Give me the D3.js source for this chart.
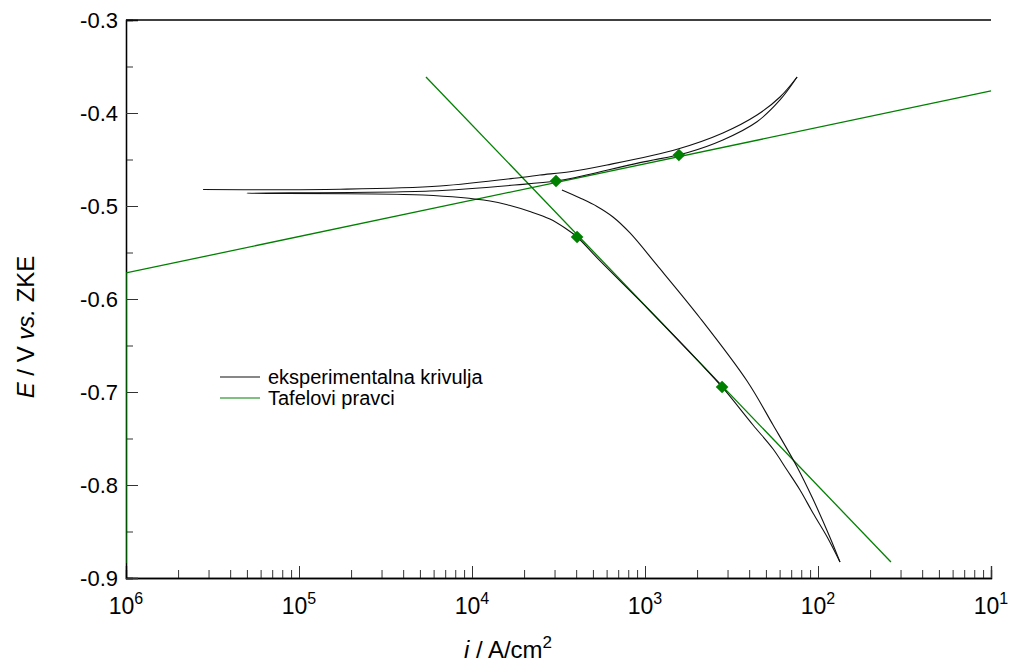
<!doctype html>
<html>
<head>
  <script src="https://d3js.org/d3.v7.min.js"></script>
</head>
<style>
  body {
    margin: 0;
    background: #fff;
  }

  svg text {
    font-family: Arial, "Liberation Sans", sans-serif;
    fill: #000;
  }
</style>
<body>
<svg></svg>

<script>
  // data: [current density, potential]
  const upperSweep = [
    [2.79e-6, -0.4823], [1.73e-5, -0.4820], [6.53e-5, -0.4785], [1.97e-4, -0.4691],
    [2.47e-4, -0.4667], [3.68e-4, -0.4631], [6.03e-4, -0.4559], [1.55e-3, -0.4387],
    [2.82e-3, -0.4215], [4.44e-3, -0.4022], [6.03e-3, -0.3828], [7.57e-3, -0.3613]
  ];
  const lowerSweep = [
    [7.57e-3, -0.3613], [6.03e-3, -0.3860], [4.44e-3, -0.4094], [2.82e-3, -0.4290],
    [1.75e-3, -0.4427], [9.35e-4, -0.4534], [3.84e-4, -0.4699], [3.06e-4, -0.4731],
    [1.97e-4, -0.4767], [5.71e-5, -0.4839], [5.00e-6, -0.4863], [5.21e-5, -0.4882],
    [1.27e-4, -0.4946], [1.66e-4, -0.4995], [2.16e-4, -0.5059], [2.82e-4, -0.5140],
    [3.45e-4, -0.5237], [4.05e-4, -0.5333], [5.50e-4, -0.5591], [1.07e-3, -0.6129],
    [2.08e-3, -0.6688], [2.79e-3, -0.6946], [4.21e-3, -0.7355], [5.50e-3, -0.7613],
    [6.62e-3, -0.7839], [7.87e-3, -0.8054], [9.35e-3, -0.8301], [1.13e-2, -0.8559],
    [1.34e-2, -0.8828]
  ];
  const cathodicSweep = [
    [3.31e-4, -0.4828], [4.21e-4, -0.4914], [5.28e-4, -0.5005], [6.53e-4, -0.5118],
    [8.19e-4, -0.5290], [1.17e-3, -0.5634], [2.08e-3, -0.6204], [3.89e-3, -0.6882],
    [5.50e-3, -0.7355], [7.57e-3, -0.7806], [9.35e-3, -0.8151], [1.17e-2, -0.8559],
    [1.34e-2, -0.8828]
  ];
  const anodicTafel = [[1e-6, -0.884], [1e-6, -0.572], [1e-1, -0.3763]];
  const cathodicTafel = [[5.42e-5, -0.3613], [2.64e-2, -0.8828]];
  const tafelPoints = [[3.06e-4, -0.4731], [1.57e-3, -0.4452], [4.05e-4, -0.5333], [2.79e-3, -0.6946]];

  const xMajor = [1e-6, 1e-5, 1e-4, 1e-3, 1e-2, 1e-1];
  const xLabels = ["6", "5", "4", "3", "2", "1"];
  const yMajor = [-0.3, -0.4, -0.5, -0.6, -0.7, -0.8, -0.9];
  const yLabels = ["-0.3", "-0.4", "-0.5", "-0.6", "-0.7", "-0.8", "-0.9"];
  const yMinor = [-0.35, -0.45, -0.55, -0.65, -0.75, -0.85];
  const legendNames = ["eksperimentalna krivulja", "Tafelovi pravci"];

  const chartWidth = 1011, chartHeight = 663;
  const plotLeft = 126, plotRight = 991, plotTop = 20, plotBottom = 578;
  const green = "#008000";

  const svg = d3.select("svg")
    .attr("width", chartWidth)
    .attr("height", chartHeight);

  const x = d3.scaleLog().domain([1e-6, 1e-1]).range([plotLeft, plotRight]);
  const y = d3.scaleLinear().domain([-0.9, -0.3]).range([plotBottom, plotTop]);

  const xMinor = [];
  xMajor.slice(0, -1).forEach(function (d) {
    for (let k = 2; k < 10; k++) xMinor.push(d * k);
  });

  svg.append("defs").append("clipPath").attr("id", "plot")
    .append("rect")
    .attr("x", plotLeft).attr("y", plotTop - 1)
    .attr("width", plotRight - plotLeft + 1).attr("height", plotBottom - plotTop + 2);

  // axes
  const xAxisMinor = d3.axisBottom(x).tickValues(xMinor).tickSize(-8).tickFormat("");
  const xAxisMajor = d3.axisBottom(x).tickValues(xMajor).tickSize(-12).tickFormat("");
  const yAxisMinor = d3.axisLeft(y).tickValues(yMinor).tickSize(-7).tickFormat("");
  const yAxisMajor = d3.axisLeft(y).tickValues(yMajor).tickSize(-12)
    .tickFormat(function (d, i) { return yLabels[i]; });

  svg.append("g").attr("transform", `translate(0, ${plotBottom})`).call(xAxisMinor);
  svg.append("g").attr("transform", `translate(0, ${plotBottom})`).call(xAxisMajor);
  svg.append("g").attr("transform", `translate(${plotLeft}, 0)`).call(yAxisMinor);
  const yg = svg.append("g").attr("transform", `translate(${plotLeft}, 0)`).call(yAxisMajor);
  yg.selectAll("text")
    .attr("x", -8)
    .attr("dy", "0.36em")
    .style("font-size", "22px")
    .style("font-family", "Arial, 'Liberation Sans', sans-serif");

  svg.selectAll(".domain").attr("stroke", "#000").attr("stroke-width", 1.3);
  svg.selectAll(".tick line").attr("stroke", "#333").attr("stroke-width", 1);

  // top frame line
  svg.append("line")
    .attr("x1", plotLeft).attr("x2", plotRight)
    .attr("y1", plotTop).attr("y2", plotTop)
    .attr("stroke", "#000").attr("stroke-width", 1.3);

  // x tick labels with superscripts
  const xl = svg.append("g").selectAll("text")
    .data(xMajor)
    .join("text")
    .attr("x", function (d) { return x(d); })
    .attr("y", 614)
    .attr("text-anchor", "middle")
    .style("font-size", "23px");
  xl.append("tspan").text("10");
  xl.append("tspan")
    .attr("dy", -10)
    .style("font-size", "16px")
    .text(function (d, i) { return xLabels[i]; });

  const line = d3.line()
    .x(function (d) { return x(d[0]); })
    .y(function (d) { return y(d[1]); })
    .curve(d3.curveCatmullRom.alpha(0.5));

  const straight = d3.line()
    .x(function (d) { return x(d[0]); })
    .y(function (d) { return y(d[1]); });

  const plot = svg.append("g").attr("clip-path", "url(#plot)");

  [anodicTafel, cathodicTafel].forEach(function (d) {
    plot.append("path")
      .datum(d)
      .attr("d", straight)
      .attr("fill", "none")
      .attr("stroke", green)
      .attr("stroke-width", 1.3);
  });

  [upperSweep, lowerSweep, cathodicSweep].forEach(function (d) {
    plot.append("path")
      .datum(d)
      .attr("d", line)
      .attr("fill", "none")
      .attr("stroke", "#111")
      .attr("stroke-width", 1.1);
  });

  plot.selectAll(".pt")
    .data(tafelPoints)
    .join("path")
    .attr("class", "pt")
    .attr("d", d3.symbol().type(d3.symbolSquare).size(80))
    .attr("transform", function (d) { return `translate(${x(d[0])}, ${y(d[1])}) rotate(45)`; })
    .attr("fill", green);

  // legend
  const legendColors = ["#111", green];
  const lg = svg.append("g");
  legendNames.forEach(function (name, i) {
    const ly = 377 + i * 21;
    lg.append("line")
      .attr("x1", 220).attr("x2", 260)
      .attr("y1", ly).attr("y2", ly)
      .attr("stroke", legendColors[i])
      .attr("stroke-width", 1.2);
    lg.append("text")
      .attr("x", 268).attr("y", ly + 7)
      .style("font-size", "20px")
      .text(name);
  });

  // axis titles
  const yt = svg.append("text")
    .attr("transform", "translate(34, 327) rotate(-90)")
    .attr("text-anchor", "middle")
    .style("font-size", "24px");
  yt.append("tspan").style("font-style", "italic").text("E");
  yt.append("tspan").text("  / V ");
  yt.append("tspan").style("font-style", "italic").text("vs.");
  yt.append("tspan").text(" ZKE");

  const xt = svg.append("text")
    .attr("x", 508).attr("y", 658)
    .attr("text-anchor", "middle")
    .style("font-size", "24px");
  xt.append("tspan").style("font-style", "italic").text("i");
  xt.append("tspan").text(" / A/cm");
  xt.append("tspan").attr("dy", -10).style("font-size", "17px").text("2");
</script>
</body>
</html>
